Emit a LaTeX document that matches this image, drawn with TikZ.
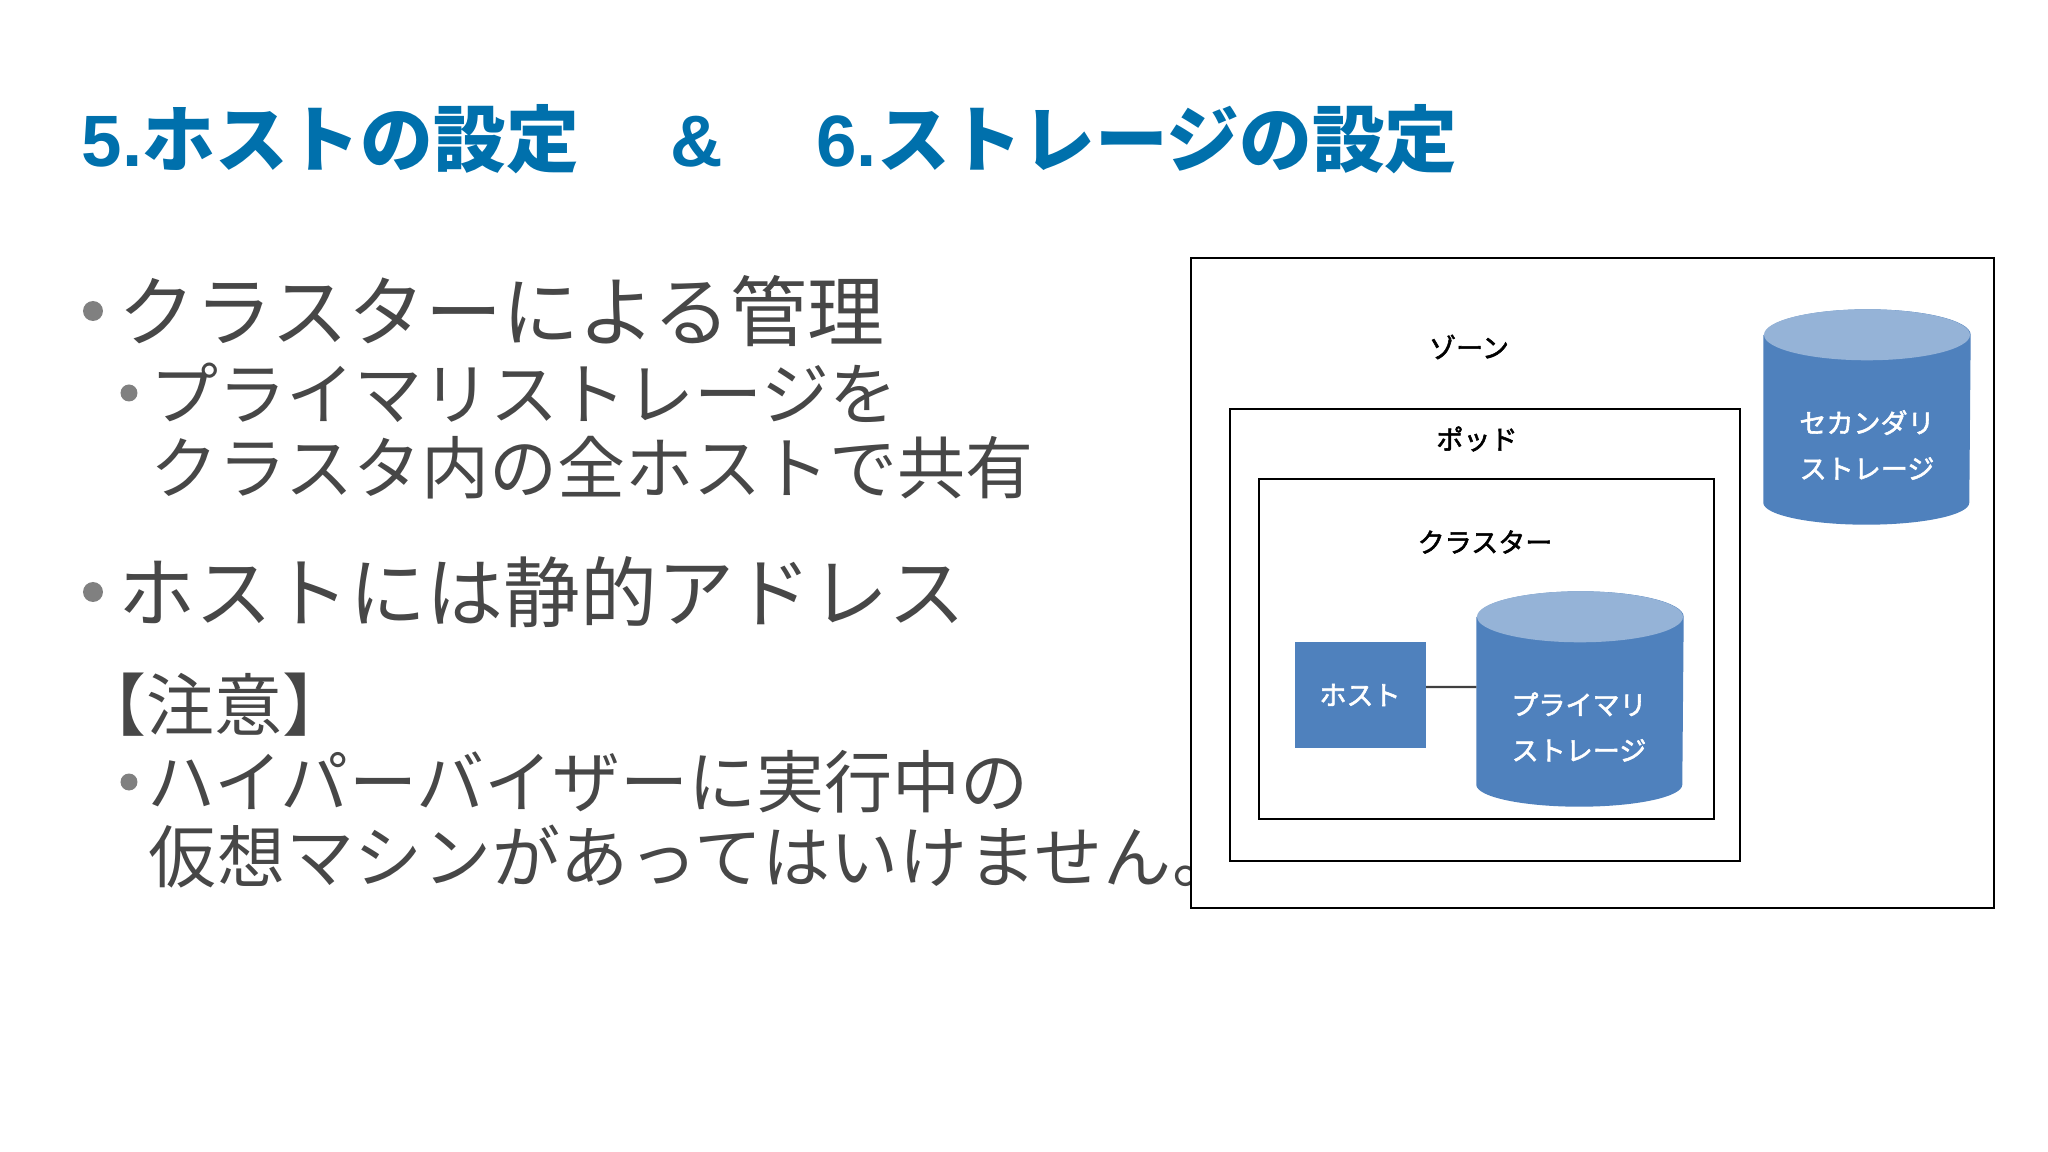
\documentclass[tikz,border=0pt]{standalone}
\usepackage{fontspec}
\newfontfamily\jpfont{Noto Sans CJK JP}
\newfontfamily\labelfont[FakeBold=2]{Noto Sans CJK JP}
\newfontfamily\latinfont{Liberation Sans}
\definecolor{titleblue}{HTML}{0070AC}
\definecolor{bodygrey}{HTML}{474747}
\definecolor{dotgrey}{HTML}{808080}
\definecolor{boxblue}{HTML}{4F81BD}
\definecolor{capblue}{HTML}{95B3D7}
\tikzset{
  bigtext/.style={anchor=west, inner sep=0pt, text=bodygrey, font=\jpfont\fontsize{21.9}{26}\selectfont},
  subtext/.style={anchor=west, inner sep=0pt, align=left, text=bodygrey, font=\jpfont\fontsize{19.35}{21}\selectfont},
  bulletdot/.style={circle, fill=dotgrey, inner sep=0pt, minimum size=#1},
  frame/.style={draw=black, fill=white, line width=0.55pt},
  nametext/.style={inner sep=0pt, text=black, font=\labelfont\fontsize{7.7}{13}\selectfont},
  whitetext/.style={inner sep=0pt, align=center, text=white, font=\labelfont\fontsize{7.7}{13}\selectfont},
  storage/.style={minimum width=2.06cm, minimum height=2.14cm, inner sep=0pt},
}
% storage cylinder: node name, position
\newcommand{\storagecan}[2]{
  \node [storage] (#1) at (#2) {};
  \fill [boxblue] ([yshift=-0.255cm]#1.north west) -- ([yshift=0.22cm]#1.south west)
    arc (180:360:1.03 and 0.22) -- ([yshift=-0.255cm]#1.north east)
    arc (0:180:1.03 and 0.255) -- cycle;
  \fill [capblue] ([yshift=-0.255cm]#1.north) ellipse (1.03 and 0.255);
}
\begin{document}
\begin{tikzpicture}
\useasboundingbox (0,0) rectangle (20.48,-11.52);

% title
\node [anchor=west, inner sep=0pt, text=titleblue, font=\jpfont\bfseries\fontsize{20.7}{24}\selectfont] (title) at (0.81,-1.39)
  {{\latinfont\bfseries 5.}ホストの設定\hspace{0.92cm}{\latinfont\bfseries\&}\hspace{0.93cm}{\latinfont\bfseries 6.}ストレージの設定};

% left text
\node [bulletdot=0.2cm] (dotA) at (0.93,-3.11) {};
\node [bigtext] (textA) at (1.18,-3.11) {クラスターによる管理};
\node [bulletdot=0.17cm] (dotB) at (1.29,-3.93) {};
\node [subtext, anchor=north west] (textB) at (1.50,-3.62) {プライマリストレージを\\クラスタ内の全ホストで共有};
\node [bulletdot=0.2cm] (dotC) at (0.93,-5.92) {};
\node [bigtext] (textC) at (1.18,-5.92) {ホストには静的アドレス};
\node [subtext] (note) at (0.78,-7.05) {【注意】};
\node [bulletdot=0.17cm] (dotD) at (1.29,-7.82) {};
\node [subtext] (textD) at (1.47,-7.82) {ハイパーバイザーに実行中の};
\node [subtext, font=\jpfont\fontsize{19.35}{21}\selectfont\addfontfeature{LetterSpace=1}] (textE) at (1.48,-8.57) {仮想マシンがあってはいけません。};

% frames
\node [frame, anchor=north west, minimum width=8.03cm, minimum height=6.50cm, inner sep=0pt] (zone) at (11.90,-2.57) {};
\node [frame, anchor=north west, minimum width=5.10cm, minimum height=4.52cm, inner sep=0pt] (pod) at (12.29,-4.08) {};
\node [frame, anchor=north west, minimum width=4.55cm, minimum height=3.40cm, inner sep=0pt] (cluster) at (12.58,-4.78) {};

\node [nametext] (zonetext) at (14.69,-3.47) {ゾーン};
\node [nametext] (podtext) at (14.77,-4.39) {ポッド};
\node [nametext] (clustertext) at (14.85,-5.42) {クラスター};

% storage
\storagecan{secondary}{18.67,-4.17}
\node [whitetext] (secondarytext) at (18.67,-4.45) {セカンダリ\\ストレージ};
\storagecan{primary}{15.80,-6.99}
\node [whitetext] (primarytext) at (15.79,-7.27) {プライマリ\\ストレージ};

\node [fill=boxblue, minimum width=1.31cm, minimum height=1.06cm, inner sep=0pt, text=white, font=\labelfont\fontsize{7.7}{13}\selectfont] (host) at (13.60,-6.95) {ホスト};

% link
\draw [line width=0.7pt, black!75] ([yshift=0.08cm]host.east) -- ([yshift=0.12cm]primary.west);

\end{tikzpicture}
\end{document}
